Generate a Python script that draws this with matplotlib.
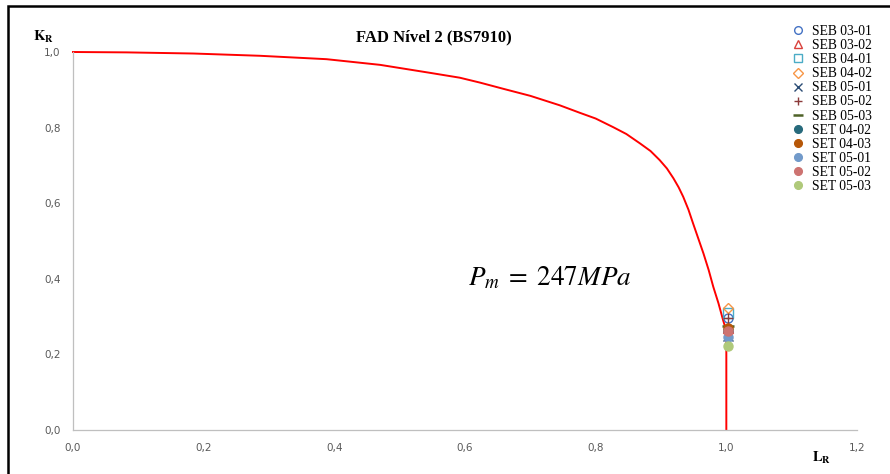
import matplotlib
matplotlib.use("Agg")
import matplotlib.pyplot as plt
from matplotlib.patches import Rectangle

# ---- data ----
curve_lr = [0.0, 0.082, 0.184, 0.286, 0.388, 0.470, 0.546, 0.592, 0.623, 0.660,
            0.700, 0.745, 0.776, 0.800, 0.827, 0.847, 0.868, 0.884, 0.898, 0.909,
            0.919, 0.927, 0.934, 0.942, 0.949, 0.957, 0.965, 0.973, 0.980, 0.988,
            0.995, 1.0, 1.0]
curve_kr = [1.0, 0.999, 0.996, 0.990, 0.981, 0.966, 0.945, 0.932, 0.919, 0.902,
            0.884, 0.859, 0.839, 0.824, 0.801, 0.783, 0.758, 0.738, 0.714, 0.692,
            0.666, 0.642, 0.617, 0.583, 0.547, 0.507, 0.467, 0.423, 0.379, 0.335,
            0.291, 0.262, 0.0]

labels = ["SEB 03-01", "SEB 03-02", "SEB 04-01", "SEB 04-02", "SEB 05-01",
          "SEB 05-02", "SEB 05-03", "SET 04-02", "SET 04-03", "SET 05-01",
          "SET 05-02", "SET 05-03"]
lr_vals = [1.003, 1.003, 1.003, 1.003, 1.003, 1.003, 1.003, 1.003, 1.003, 1.003,
           1.003, 1.003]
kr_vals = [0.295, 0.27, 0.31, 0.322, 0.25, 0.295, 0.275, 0.265, 0.27, 0.245,
           0.262, 0.222]

markers = ["o", "^", "s", "D", "x", "+", "_", "o", "o", "o", "o", "o"]
colors = ["#4472C4", "#D9413C", "#4BACC6", "#F79646", "#2C4D75", "#8B3A3A",
          "#4F6228", "#276A7C", "#B65708", "#729ACA", "#CD7371", "#AFC97A"]
filled = [False, False, False, False, True, True, True, True, True, True, True, True]
sizes = [6.5, 6.5, 6.5, 5.5, 6.5, 7.5, 8.5, 6.5, 6.5, 6.5, 6.5, 6.5]

xticks = [0.0, 0.2, 0.4, 0.6, 0.8, 1.0, 1.2]
yticks = [0.0, 0.2, 0.4, 0.6, 0.8, 1.0]

plt.rcParams["mathtext.fontset"] = "stix"

fig = plt.figure(figsize=(8.9, 4.74), dpi=100)
ax = fig.add_axes([73/890, 1-430/474, (857-73)/890, (430-52)/474])

ax.plot(curve_lr, curve_kr, color="#FF0000", lw=1.4, clip_on=False, zorder=2,
        solid_joinstyle="round")

handles = []
for lab, x, y, m, c, f, s in zip(labels, lr_vals, kr_vals, markers, colors, filled, sizes):
    if m in ("x", "+", "_"):
        h, = ax.plot([x], [y], linestyle="none", marker=m, color=c, markersize=s,
                     markeredgewidth=1.8 if m == "_" else 1.0, label=lab, zorder=3, clip_on=False)
    elif f:
        h, = ax.plot([x], [y], linestyle="none", marker=m, color=c, markersize=s,
                     markeredgecolor=c, label=lab, zorder=3, clip_on=False)
    else:
        h, = ax.plot([x], [y], linestyle="none", marker=m, markerfacecolor="none",
                     markeredgecolor=c, markersize=s, markeredgewidth=1.0, label=lab,
                     zorder=3, clip_on=False)
    handles.append(h)

ax.set_xlim(0, 1.2)
ax.set_ylim(0, 1.0)
ax.set_xticks(xticks)
ax.set_yticks(yticks)
ax.set_xticklabels([f"{v:.1f}".replace(".", ",") for v in xticks])
ax.set_yticklabels([f"{v:.1f}".replace(".", ",") for v in yticks])
ax.tick_params(length=0, labelsize=7.5, labelcolor="#595959", pad=9)
for side in ("top", "right"):
    ax.spines[side].set_visible(False)
for side in ("left", "bottom"):
    ax.spines[side].set_color("#BFBFBF")
    ax.spines[side].set_linewidth(0.9)

leg = fig.legend(handles=handles, loc="upper left", bbox_to_anchor=(791/890, 1-25/474),
                 frameon=False, prop={"family": "Liberation Serif", "size": 9.8},
                 handlelength=1.0, handletextpad=0.53, labelspacing=0.08, borderpad=0,
                 borderaxespad=0, markerscale=0.85)

fig.text(434/890, 1-37/474, "FAD Nível 2 (BS7910)", ha="center", va="center",
         family="Liberation Serif", fontweight="bold", fontsize=12)
fig.text(33/890, 1-37/474, r"$\mathbf{K}_{\mathbf{R}}$", ha="left", va="center", fontsize=10.5)
fig.text(812/890, 1-458/474, r"$\mathbf{L}_{\mathbf{R}}$", ha="left", va="center", fontsize=10.5)
fig.text(468/890, 1-285/474, r"$P_m\;=\;247MPa$", ha="left", va="baseline", fontsize=19.5)

# outer frame of the embedded chart
fig.add_artist(Rectangle((8/890, -0.2), 1.5, 1.2 - 6/474, transform=fig.transFigure,
                         fill=False, edgecolor="black", lw=1.8, clip_on=False))

fig.savefig("out.png", dpi=100, facecolor="white")
